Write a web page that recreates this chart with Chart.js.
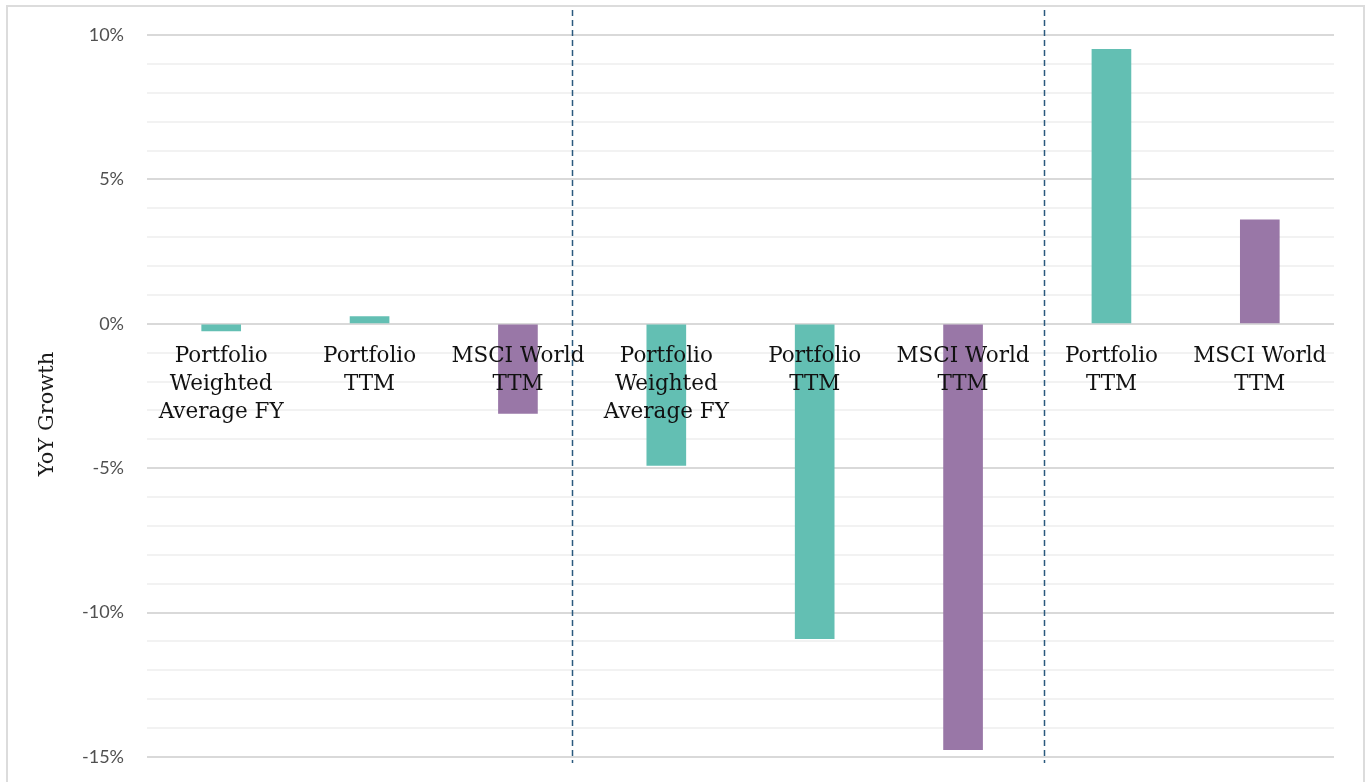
<!DOCTYPE html>
<html>
<head>
<meta charset="utf-8">
<script src="https://cdn.jsdelivr.net/npm/chart.js@4/dist/chart.umd.min.js"></script>
<style>
  html, body { margin: 0; padding: 0; background: #fff; }
  #wrap { position: relative; width: 1367px; height: 782px; overflow: hidden; }
  #frame { position: absolute; left: 6px; top: 5px; width: 1355px; height: 800px; border: 2px solid #dcdcdc; }
  #myChart { position: absolute; left: 0; top: 0; }
</style>
</head>
<body>
<div id="wrap">
  <div id="frame"></div>
  <canvas id="myChart" width="1367" height="782"></canvas>
</div>
<script>
// categories (multi-line labels)
const labels =
[
    ["Portfolio", "Weighted", "Average FY"],
    ["Portfolio", "TTM"],
    ["MSCI World", "TTM"],
    ["Portfolio", "Weighted", "Average FY"],
    ["Portfolio", "TTM"],
    ["MSCI World", "TTM"],
    ["Portfolio", "TTM"],
    ["MSCI World", "TTM"],
];

// YoY growth in %
const growth = [-0.25, 0.25, -3.1, -4.9, -10.9, -14.75, 9.5, 3.6];

// which series each bar belongs to
const series = ["Portfolio", "Portfolio", "MSCI", "Portfolio", "Portfolio", "MSCI", "Portfolio", "MSCI"];

// group separators, in category units
const dividers = [2.365, 5.545];

const yMin = -15;
const yMax = 10;

const colors = { Portfolio: '#63bfb3', MSCI: '#9977a7' };

const dividerPlugin =
{
    id: 'dividers',
    afterDatasetsDraw(chart)
    {
        const ctx = chart.ctx;
        const area = chart.chartArea;
        const x = chart.scales.x;
        ctx.save();
        ctx.strokeStyle = '#2b5a7e';
        ctx.lineWidth = 1.5;
        ctx.setLineDash([6, 4]);
        dividers.forEach(d => {
            const px = Math.round(x.getPixelForValue(d)) + 0.5;
            ctx.beginPath();
            ctx.moveTo(px, area.top - 25);
            ctx.lineTo(px, area.bottom + 6);
            ctx.stroke();
        });
        ctx.restore();
    }
};

const yTitlePlugin =
{
    id: 'yTitle',
    afterDraw(chart)
    {
        const ctx = chart.ctx;
        ctx.save();
        ctx.translate(48, 414);
        ctx.rotate(-Math.PI / 2);
        ctx.font = '21px "DejaVu Serif"';
        ctx.fillStyle = '#1a1a1a';
        ctx.textAlign = 'center';
        ctx.textBaseline = 'middle';
        ctx.fillText('YoY Growth', 0, 0);
        ctx.restore();
    }
};

const data =
{
    labels: labels,
    datasets:
    [
        {
            label: 'YoY Growth',
            data: growth,
            backgroundColor: series.map(s => colors[s]),
            borderWidth: 0,
            barThickness: 39,
        }
    ]
};

const config =
{
    type: 'bar',
    data: data,
    options: {
        responsive: false,
        animation: false,
        layout: { padding: { left: 0, right: 33, top: 35, bottom: 25 } },
        plugins: {
            legend: { display: false },
            tooltip: { enabled: false },
        },
        scales:
        {
            x:
            {
                position: { y: 0 },
                grid: { display: false, drawTicks: false },
                border: { display: false },
                ticks: {
                    z: 1,
                    autoSkip: false,
                    maxRotation: 0,
                    minRotation: 0,
                    padding: 19,
                    color: '#111',
                    font: { family: '"DejaVu Serif"', size: 21.5, lineHeight: 1.3 },
                },
            },
            y:
            {
                min: yMin,
                max: yMax,
                afterFit: (scale) => {
                    scale.width = 147;
                    scale.paddingTop = 0;
                    scale.paddingBottom = 0;
                },
                border: { display: false },
                grid: {
                    drawTicks: false,
                    lineWidth: 2,
                    color: c => (c.tick && c.tick.value % 5 === 0) ? '#d9d9d9' : '#f2f2f2',
                },
                ticks: {
                    stepSize: 1,
                    autoSkip: false,
                    padding: 23,
                    color: '#505050',
                    font: { family: 'Lato', size: 18 },
                    callback: v => (v % 5 === 0) ? v + '%' : '',
                },
            }
        }
    },
    plugins: [dividerPlugin, yTitlePlugin],
};

var myChart = new Chart(document.getElementById('myChart'), config);
</script>
</body>
</html>
